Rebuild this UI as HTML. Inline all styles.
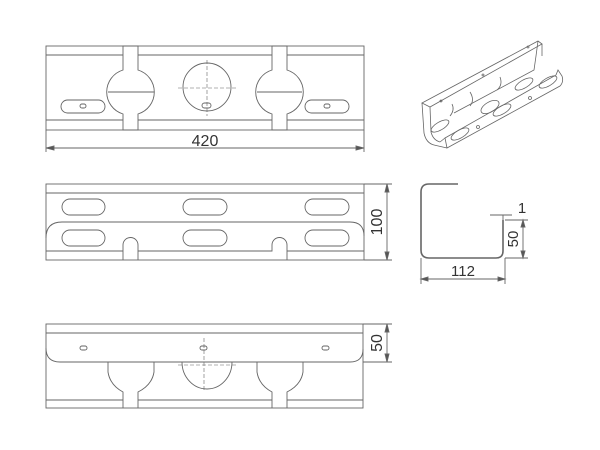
<!DOCTYPE html>
<html><head><style>body{margin:0;background:#fff}svg{display:block}</style></head><body>
<svg width="600" height="450" viewBox="0 0 600 450" xmlns="http://www.w3.org/2000/svg" fill="none" stroke="#666" stroke-width="0.9" font-family="Liberation Sans, sans-serif">
<!-- Top view -->
<rect x="46" y="46" width="318" height="84"/>
<line x1="46" y1="55" x2="123" y2="55"/><line x1="138" y1="55" x2="272" y2="55"/><line x1="287" y1="55" x2="364" y2="55"/>
<line x1="46" y1="120" x2="123" y2="120"/><line x1="138" y1="120" x2="272" y2="120"/><line x1="287" y1="120" x2="364" y2="120"/>
<path d="M123 46 V70 A23 23 0 0 0 123 114 V130 H138 V114 A23 23 0 0 0 138 70 V46 Z"/>
<line x1="108" y1="92" x2="154" y2="92"/>
<path d="M272 46 V70 A23 23 0 0 0 272 114 V130 H287 V114 A23 23 0 0 0 287 70 V46 Z"/>
<line x1="257" y1="92" x2="302" y2="92"/>
<circle cx="207" cy="87" r="24"/>
<g stroke-dasharray="4 2" stroke-width="0.6"><line x1="178" y1="88" x2="236" y2="88"/><line x1="207" y1="60" x2="207" y2="116"/></g>
<rect x="202" y="103" width="9" height="5" rx="2.5"/>
<rect x="61" y="100" width="44" height="13" rx="6.5"/><rect x="80" y="104" width="6" height="4" rx="2"/>
<rect x="305" y="100" width="44" height="13" rx="6.5"/><rect x="324" y="104" width="6" height="4" rx="2"/>
<line x1="46" y1="130" x2="46" y2="152"/><line x1="364" y1="130" x2="364" y2="152"/>
<line x1="46" y1="148" x2="364" y2="148"/>
<path d="M46 148 l8 -2 v4 z M364 148 l-8 -2 v4 z" fill="#555"/>
<text x="205" y="146" font-size="16" fill="#333" stroke="none" text-anchor="middle">420</text>
<!-- Side view -->
<rect x="46" y="184" width="318" height="76"/>
<line x1="46" y1="193" x2="364" y2="193"/>
<rect x="62" y="199" width="43" height="16" rx="8"/><rect x="183" y="199" width="44" height="16" rx="8"/><rect x="305" y="199" width="44" height="16" rx="8"/>
<path d="M46 238 Q46 222 62 222 H350 Q364 222 364 236"/>
<rect x="62" y="230" width="43" height="16" rx="8"/><rect x="183" y="230" width="44" height="16" rx="8"/><rect x="305" y="230" width="44" height="16" rx="8"/>
<path d="M46 251 H123 V245 A7.5 7.5 0 0 1 138 245 V260 M138 251 H272 V245 A7.5 7.5 0 0 1 287 245 V260 M287 251 H364 M123 251 V260"/>
<line x1="364" y1="184" x2="392" y2="184"/><line x1="364" y1="260" x2="392" y2="260"/>
<line x1="387" y1="184" x2="387" y2="260"/>
<path d="M387 184 l-2 8 h4 z M387 260 l-2 -8 h4 z" fill="#555"/>
<text transform="translate(382 222) rotate(-90)" font-size="16" fill="#333" stroke="none" text-anchor="middle">100</text>
<!-- Bottom view -->
<rect x="46" y="324" width="317" height="84"/>
<line x1="46" y1="333" x2="363" y2="333"/>
<path d="M46 348 Q46 362 60 362 H350 Q363 362 363 349"/>
<rect x="80" y="346" width="7" height="4" rx="2"/><rect x="200" y="346" width="7" height="4" rx="2"/><rect x="322" y="346" width="7" height="4" rx="2"/>
<line x1="46" y1="400" x2="123" y2="400"/><line x1="138" y1="400" x2="272" y2="400"/><line x1="287" y1="400" x2="363" y2="400"/>
<path d="M108 362 V372 Q110 385 123 392 V408 M138 408 V392 Q152 385 154 372 V362"/>
<path d="M257 362 V372 Q259 385 272 392 V408 M287 408 V392 Q301 385 303 372 V362"/>
<path d="M182 362 A25 27 0 0 0 232 362"/>
<g stroke-dasharray="4 2" stroke-width="0.6"><line x1="178" y1="365" x2="236" y2="365"/><line x1="204" y1="338" x2="204" y2="392"/></g>
<line x1="363" y1="324" x2="392" y2="324"/><line x1="363" y1="362" x2="392" y2="362"/>
<line x1="387" y1="324" x2="387" y2="362"/>
<path d="M387 324 l-2 8 h4 z M387 362 l-2 -8 h4 z" fill="#555"/>
<text transform="translate(382 343) rotate(-90)" font-size="16" fill="#333" stroke="none" text-anchor="middle">50</text>
<!-- Profile -->
<path d="M458 184 H429 Q421 184 421 192 V250 Q421 258 429 258 H496 Q503 258 503 251 V220" stroke-width="1.6"/>
<line x1="490" y1="215" x2="512" y2="215"/><line x1="503" y1="215" x2="503" y2="220"/>
<text x="522" y="213" font-size="15" fill="#333" stroke="none" text-anchor="middle">1</text>
<line x1="505" y1="220" x2="528" y2="220"/><line x1="505" y1="258" x2="528" y2="258"/>
<line x1="523" y1="220" x2="523" y2="258"/>
<path d="M523 220 l-2 7 h4 z M523 258 l-2 -7 h4 z" fill="#555"/>
<text transform="translate(518 239) rotate(-90)" font-size="15" fill="#333" stroke="none" text-anchor="middle">50</text>
<line x1="421" y1="258" x2="421" y2="284"/><line x1="505" y1="258" x2="505" y2="284"/>
<line x1="421" y1="279" x2="505" y2="279"/>
<path d="M421 279 l7 -2 v4 z M505 279 l-7 -2 v4 z" fill="#555"/>
<text x="463" y="276" font-size="15" fill="#333" stroke="none" text-anchor="middle">112</text>
<!-- Isometric -->
<g stroke-width="0.8">
<path d="M422 103 L538 41 L542 44 L430 107 Z"/>
<path d="M422 103 L424 133 Q426 143 434 145 L447 148"/>
<path d="M430 107 L431 132 Q433 140 440 142"/>
<path d="M542 44 L542 56 M538 41 L536 56"/>
<path d="M447 148 L560 86 Q564 82 562 76 L558 70 L556 75 L445 138 Z"/>
<path d="M440 142 L445 138"/>
<path d="M536 56 L534 70 L454 113"/>
<path d="M450 116 Q455 110 452 104 M470 106 Q475 100 470 92 M497 90 Q503 85 500 77"/>
<ellipse cx="440" cy="126" rx="10" ry="4" transform="rotate(-30 440 126)"/>
<ellipse cx="460" cy="134" rx="10" ry="4" transform="rotate(-30 460 134)"/>
<ellipse cx="502" cy="110" rx="10" ry="4" transform="rotate(-30 502 110)"/>
<ellipse cx="524" cy="84" rx="10" ry="4" transform="rotate(-30 524 84)"/>
<ellipse cx="548" cy="82" rx="10" ry="4" transform="rotate(-30 548 82)"/>
<ellipse cx="490" cy="107" rx="10" ry="5" transform="rotate(-30 490 107)"/>
<circle cx="441" cy="101" r="1"/><circle cx="483" cy="75" r="1"/><circle cx="528" cy="47" r="1"/>
<circle cx="478" cy="127" r="1.5"/><circle cx="530" cy="98" r="1.5"/>
</g>
</svg>
</body></html>
